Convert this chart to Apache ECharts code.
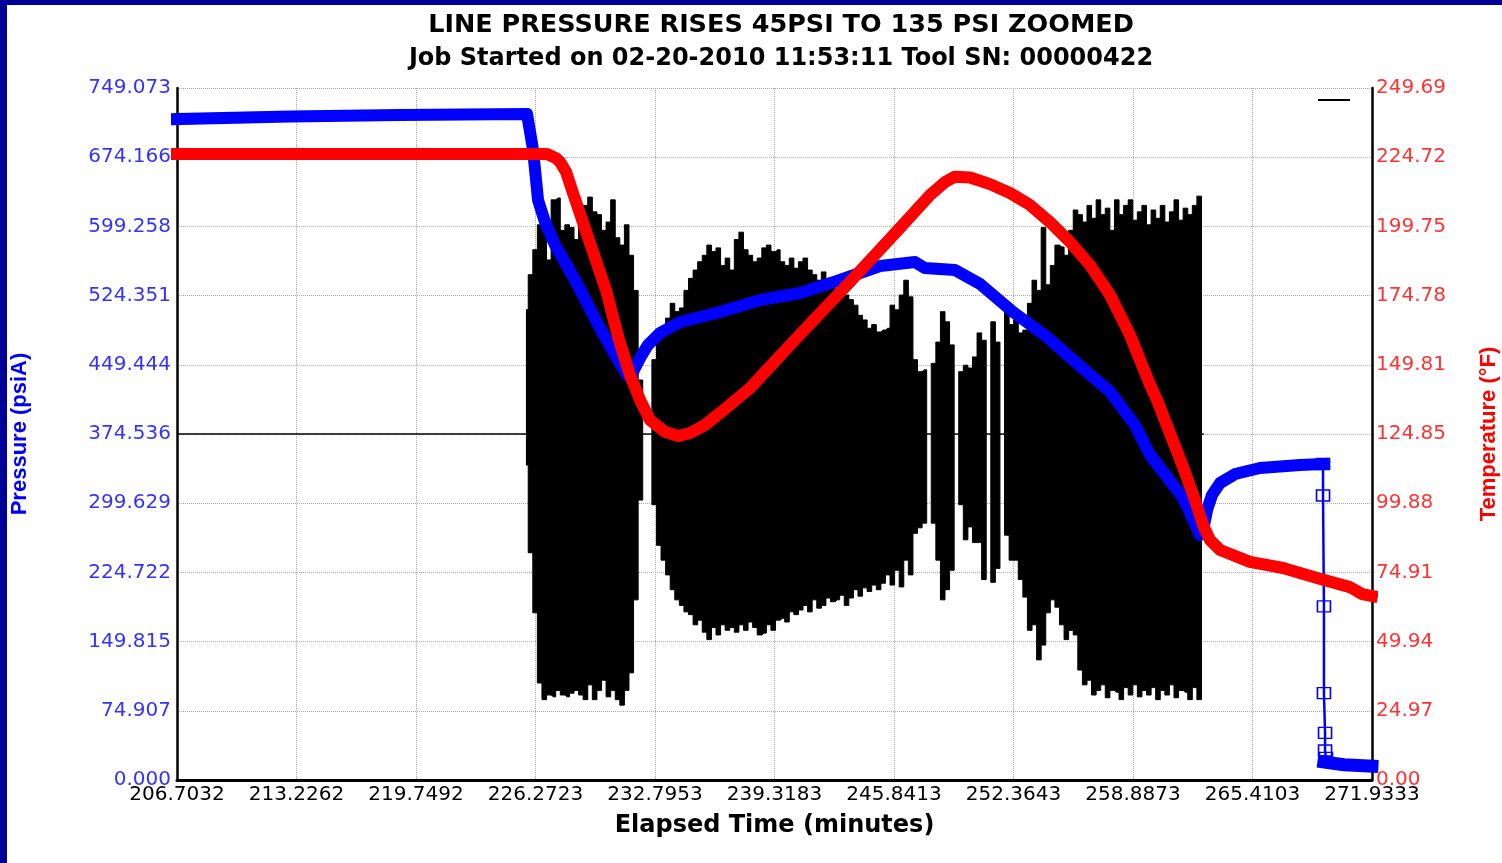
<!DOCTYPE html>
<html>
<head>
<meta charset="utf-8">
<title>Line pressure rises 45psi to 135 psi zoomed</title>
<script src="https://cdn.jsdelivr.net/npm/echarts@6/dist/echarts.min.js"></script>
<style>
  html, body { margin: 0; padding: 0; background: #fff; }
  #chart { width: 1502px; height: 863px; }
</style>
</head>
<body>
<div id="chart"></div>
<script>
// axis extents and tick labels (as printed on the plot)
const timeMin = 206.7032
const timeMax = 271.9333
const pressureMax = 749.073
const tempMax = 249.69
const timeLabels = ['206.7032', '213.2262', '219.7492', '226.2723', '232.7953', '239.3183', '245.8413', '252.3643', '258.8873', '265.4103', '271.9333']
const pressureLabels = ['0.000', '74.907', '149.815', '224.722', '299.629', '374.536', '449.444', '524.351', '599.258', '674.166', '749.073']
const tempLabels = ['0.00', '24.97', '49.94', '74.91', '99.88', '124.85', '149.81', '174.78', '199.75', '224.72', '249.69']

// pressure (psiA) vs elapsed minutes - blue trace
const pressTime = [206.70, 212.87, 218.88, 225.81, 226.14, 226.41, 226.79, 227.34, 228.43, 229.79, 230.61, 231.27, 231.59, 231.98, 232.41, 233.07, 234.16, 235.25, 236.34, 238.53, 240.71, 242.89, 245.08, 246.99, 247.53, 249.17, 250.54, 252.34, 254.19, 255.99, 257.63, 258.99, 259.82, 261.62, 262.54, 262.71, 262.93, 263.20, 263.64, 264.46, 265.82, 268.00, 269.26]
const pressVal = [715.5, 718.2, 719.8, 720.9, 682.0, 627.8, 604.0, 579.1, 541.2, 489.3, 460.1, 438.4, 441.7, 456.8, 470.9, 483.9, 495.8, 501.2, 506.6, 519.6, 527.2, 541.2, 556.4, 560.7, 554.2, 552.1, 536.9, 506.6, 479.5, 448.1, 420.5, 384.3, 351.8, 305.3, 265.2, 270.6, 292.3, 308.5, 321.5, 331.2, 337.7, 341.0, 342.1]
// bleed-off at the end of the job
const dropTime = [269.26, 269.26, 269.31, 269.31, 269.37, 269.37, 269.42]
const dropVal = [342.1, 308, 188, 94, 51, 32, 24]
const tailTime = [269.31, 270.40, 271.93]
const tailVal = [19.5, 16.5, 15.0]

// temperature (F) - red trace
const tempTime = [206.70, 226.90, 227.39, 227.61, 227.94, 228.26, 229.19, 230.12, 230.83, 231.43, 231.98, 232.52, 233.34, 234.05, 234.71, 235.52, 236.34, 237.98, 240.63, 243.44, 246.17, 247.81, 248.63, 249.17, 249.99, 251.08, 252.17, 253.26, 254.35, 255.45, 256.54, 257.63, 258.72, 259.82, 260.20, 261.62, 262.27, 262.71, 263.09, 263.64, 265.27, 267.08, 268.93, 270.73, 271.39, 271.93]
const tempVal = [225.9, 225.9, 224.4, 223.0, 219.4, 212.9, 194.8, 176.8, 158.8, 146.1, 137.1, 129.9, 125.6, 124.1, 125.2, 128.1, 132.4, 141.4, 160.2, 179.7, 199.2, 211.1, 215.8, 217.7, 217.4, 215.0, 211.8, 207.5, 201.3, 194.1, 185.8, 175.0, 160.6, 142.5, 137.1, 112.9, 101.0, 92.0, 86.6, 83.0, 78.7, 76.5, 72.9, 69.6, 67.1, 66.4]

// black gauge trace: idle line, then oscillation envelope (peak / trough per sample)
const baseTime = [206.7032, 225.75]
const baseVal = [374.536, 374.536]
const noiseStart = 225.75
const noiseStep = 0.25
const noiseHigh = [
  509, 547, 574, 601, 612, 563, 628, 630, 595, 601,
  598, 585, 606, 622, 631, 615, 612, 595, 604, 628,
  587, 579, 601, 568, 530, 433, 374.5, 374.5, 455, 482,
  487, 500, 516, 507, 511, 530, 543, 552, 561, 568,
  579, 572, 576, 557, 565, 552, 585, 593, 574, 568,
  561, 565, 576, 579, 572, 574, 561, 557, 565, 554,
  561, 565, 552, 547, 541, 550, 536, 543, 530, 539,
  525, 520, 514, 503, 498, 489, 493, 485, 487, 489,
  514, 509, 525, 541, 523, 455, 442, 444, 374.5, 451,
  474, 507, 496, 471, 374.5, 442, 449, 446, 458, 484,
  476, 374.5, 496, 474, 374.5, 506, 493, 498, 484, 487,
  516, 541, 530, 598, 536, 557, 579, 577, 568, 595,
  617, 612, 604, 622, 608, 628, 612, 619, 595, 628,
  612, 622, 628, 606, 615, 622, 601, 617, 608, 622,
  604, 615, 628, 606, 619, 612, 622, 632, 374.5
]
const noiseLow = [
  341, 246, 181, 105, 87, 92, 90, 97, 92, 90,
  94, 97, 92, 87, 103, 87, 97, 108, 90, 97,
  87, 81, 97, 116, 195, 303, 374.5, 374.5, 298, 254,
  238, 222, 206, 195, 189, 182, 179, 168, 173, 160,
  152, 165, 157, 168, 162, 165, 160, 168, 162, 171,
  165, 157, 159, 168, 162, 173, 175, 171, 182, 179,
  184, 189, 182, 195, 186, 189, 197, 193, 195, 200,
  189, 197, 206, 199, 208, 204, 211, 206, 213, 222,
  211, 227, 209, 238, 222, 267, 273, 278, 374.5, 278,
  238, 195, 206, 227, 374.5, 298, 260, 274, 257, 257,
  217, 374.5, 214, 229, 374.5, 265, 238, 238, 217, 198,
  162, 168, 130, 146, 181, 195, 187, 168, 152, 162,
  157, 119, 103, 108, 92, 97, 103, 89, 97, 95,
  87, 100, 92, 103, 90, 97, 92, 100, 87, 97,
  92, 103, 89, 97, 95, 87, 100, 87, 374.5
]

const zip = (xs, ys) => xs.map((x, i) => [x, ys[i]])
const noiseTime = noiseHigh.map((v, i) => +(noiseStart + i * noiseStep).toFixed(2))

const tickFont = 'DejaVu Sans'
const chart = echarts.init(document.getElementById('chart'), null, { renderer: 'canvas' })

chart.setOption({
  animation: false,
  backgroundColor: '#ffffff',
  title: {
    text: '{a|LINE PRESSURE RISES 45PSI TO 135 PSI ZOOMED}\n{b|Job Started on 02-20-2010 11:53:11 Tool SN: 00000422}',
    left: 781,
    top: 9,
    padding: 0,
    textAlign: 'center',
    textStyle: {
      fontFamily: tickFont, fontWeight: 'bold', fontSize: 24, lineHeight: 33, color: '#000',
      rich: {
        a: { fontFamily: tickFont, fontWeight: 'bold', fontSize: 25.5, lineHeight: 33, color: '#000' },
        b: { fontFamily: tickFont, fontWeight: 'bold', fontSize: 24, lineHeight: 33, color: '#000' }
      }
    }
  },
  grid: { left: 177, right: 130, top: 88, bottom: 83, containLabel: false, outerBoundsMode: 'none' },
  xAxis: [
    { // data axis (minutes), hidden
      type: 'value', min: timeMin, max: timeMax, show: false
    },
    { // printed ticks
      type: 'category',
      data: timeLabels,
      boundaryGap: false,
      position: 'bottom',
      name: 'Elapsed Time (minutes)',
      nameLocation: 'middle',
      nameGap: 34,
      nameTextStyle: { fontFamily: tickFont, fontWeight: 'bold', fontSize: 24, color: '#000' },
      axisLine: { lineStyle: { color: '#000', width: 3 } },
      axisTick: { show: false },
      axisLabel: { fontFamily: tickFont, fontSize: 20, color: '#000', margin: 5, interval: 0 },
      splitLine: { show: true, lineStyle: { color: '#aaa', type: 'dotted', width: 1 } }
    }
  ],
  yAxis: [
    {
      type: 'value',
      min: 0,
      max: pressureMax,
      interval: pressureMax / 10,
      position: 'left',
      name: 'Pressure (psiA)',
      nameLocation: 'middle',
      nameRotate: 90,
      nameGap: 146,
      nameTextStyle: { fontFamily: 'Liberation Sans', fontWeight: 'bold', fontSize: 22, color: '#0000ff' },
      axisLine: { show: true, lineStyle: { color: '#000', width: 2.5 } },
      axisTick: { show: false },
      axisLabel: {
        fontFamily: tickFont, fontSize: 20, color: '#3333ff', margin: 6,
        formatter: v => pressureLabels[Math.round(v / (pressureMax / 10))]
      },
      splitLine: { show: true, lineStyle: { color: '#aaa', type: 'dotted', width: 1 } }
    },
    {
      type: 'value',
      min: 0,
      max: tempMax,
      interval: tempMax / 10,
      position: 'right',
      name: 'Temperature (°F)',
      nameLocation: 'middle',
      nameRotate: 90,
      nameGap: 106,
      nameTextStyle: { fontFamily: 'Liberation Sans', fontWeight: 'bold', fontSize: 22, color: '#ff0000' },
      axisLine: { show: true, lineStyle: { color: '#000', width: 2.5 } },
      axisTick: { show: false },
      axisLabel: {
        fontFamily: tickFont, fontSize: 20, color: '#ff3333', margin: 4,
        formatter: v => tempLabels[Math.round(v / (tempMax / 10))]
      },
      splitLine: { show: false }
    }
  ],
  graphic: [
    { type: 'rect', shape: { x: 0, y: 0, width: 7, height: 863 }, style: { fill: '#000099' }, z: 100 },
    { type: 'rect', shape: { x: 0, y: 0, width: 1502, height: 5 }, style: { fill: '#000099' }, z: 100 },
    { type: 'line', shape: { x1: 1318, y1: 100, x2: 1350, y2: 100 }, style: { stroke: '#000', lineWidth: 2 }, z: 100 }
  ],
  series: [
    {
      name: 'Gauge idle', type: 'line', xAxisIndex: 0, yAxisIndex: 0,
      data: zip(baseTime, baseVal), showSymbol: false, z: 2,
      lineStyle: { color: '#000', width: 1.5 }
    },
    {
      name: 'Gauge peak', type: 'line', xAxisIndex: 0, yAxisIndex: 0,
      data: zip(noiseTime, noiseHigh), showSymbol: false, step: 'middle', z: 2,
      lineStyle: { color: '#000', width: 1 },
      areaStyle: { color: '#000', opacity: 1, origin: 374.536 }
    },
    {
      name: 'Gauge trough', type: 'line', xAxisIndex: 0, yAxisIndex: 0,
      data: zip(noiseTime, noiseLow), showSymbol: false, step: 'middle', z: 2,
      lineStyle: { color: '#000', width: 1 },
      areaStyle: { color: '#000', opacity: 1, origin: 374.536 }
    },
    {
      name: 'Pressure', type: 'line', xAxisIndex: 0, yAxisIndex: 0,
      data: zip(pressTime, pressVal), showSymbol: false, clip: false, z: 3,
      lineStyle: { color: '#0000ff', width: 12, cap: 'square', join: 'round' }
    },
    {
      name: 'Pressure drop', type: 'line', xAxisIndex: 0, yAxisIndex: 0,
      data: zip(dropTime, dropVal), clip: false, z: 3,
      symbol: 'rect', symbolSize: [13, 11],
      itemStyle: { color: 'rgba(0,0,0,0)', borderColor: '#0000ff', borderWidth: 1.5 },
      lineStyle: { color: '#0000ff', width: 2.5 }
    },
    {
      name: 'Pressure tail', type: 'line', xAxisIndex: 0, yAxisIndex: 0,
      data: zip(tailTime, tailVal), showSymbol: false, clip: false, z: 3,
      lineStyle: { color: '#0000ff', width: 13, cap: 'square', join: 'round' }
    },
    {
      name: 'Temperature', type: 'line', xAxisIndex: 0, yAxisIndex: 1,
      data: zip(tempTime, tempVal), showSymbol: false, clip: false, z: 4,
      lineStyle: { color: '#ff0000', width: 12, cap: 'square', join: 'round' }
    }
  ]
})
</script>
</body>
</html>
